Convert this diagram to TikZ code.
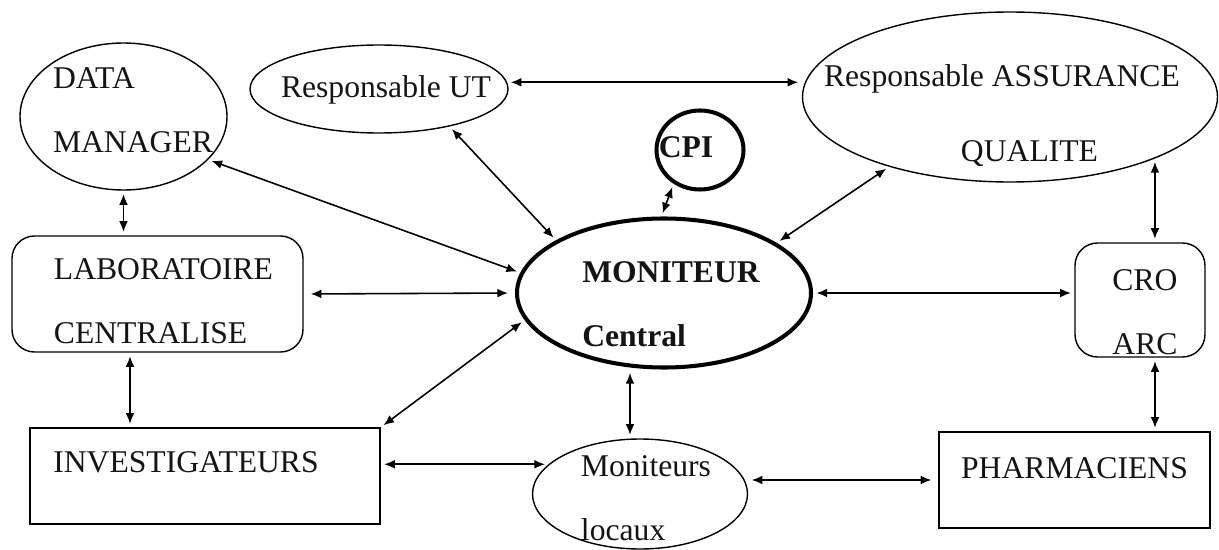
\documentclass[tikz,border=0pt]{standalone}
\usepackage{fontspec}
\setmainfont{Liberation Serif}
\usetikzlibrary{arrows.meta,shapes.geometric}
\definecolor{edgeink}{RGB}{0,0,0}
\definecolor{labelink}{RGB}{20,20,20}

\begin{document}
\begin{tikzpicture}[
  >={Latex[length=6pt,width=5pt]},
  bubble/.style={draw=edgeink, ellipse, line width=0.8pt, inner sep=0pt},
  heavy/.style={bubble, line width=2.3pt},
  box/.style={draw=edgeink, rectangle, line width=0.8pt, inner sep=0pt},
  roundbox/.style={box, rounded corners=0.45cm},
  link/.style={draw=edgeink, <->, line width=0.9pt, shorten <=2pt, shorten >=2pt},
  lab/.style={font=\fontsize{18}{36.5}\selectfont, text=labelink, inner sep=0pt},
]

  % Page frame, 1 px = 0.02 cm
  \path[use as bounding box] (0,0) rectangle (24.38,-11);

  % --- Top row ---
  \node[bubble, minimum width=4.14cm, minimum height=2.94cm] (dm) at (2.47,-2.33) {};
  \node[lab, align=left] (dm-t) at (2.66,-2.21) {DATA\\MANAGER};

  \node[bubble, minimum width=5.16cm, minimum height=1.76cm] (ut) at (7.58,-1.78) {};
  \node[lab] (ut-t) at (7.72,-1.80) {Responsable UT};

  \node[bubble, minimum width=8.3cm, minimum height=3.4cm] (aq) at (20.2,-1.94) {};
  \node[lab, align=center] (aq-t) at (20.04,-2.31)
    {Responsable ASSURANCE\\[6pt]\hspace*{1.1cm}QUALITE};

  \node[heavy, minimum width=1.74cm, minimum height=1.58cm] (cpi) at (14.0,-3.0) {};
  \node[lab, font=\fontsize{18}{36.5}\selectfont\bfseries] (cpi-t) at (13.72,-2.94) {CPI};

  % --- Central monitor ---
  \node[heavy, minimum width=5.88cm, minimum height=2.98cm] (mon) at (13.28,-5.86) {};
  \node[lab, align=left, font=\fontsize{18}{36.5}\selectfont\bfseries] (mon-t) at (13.42,-6.09)
    {MONITEUR\\Central};

  % --- Middle row ---
  \node[roundbox, minimum width=5.82cm, minimum height=2.32cm] (lab) at (3.15,-5.88) {};
  \node[lab, align=left] (lab-t) at (3.27,-6.03) {LABORATOIRE\\CENTRALISE};

  \node[roundbox, minimum width=2.6cm, minimum height=2.28cm] (cro) at (22.8,-6.0) {};
  \node[lab, align=center] (cro-t) at (22.9,-6.25) {CRO\\ARC};

  % --- Bottom row ---
  \node[box, minimum width=7.0cm, minimum height=1.92cm] (inv) at (4.1,-9.52) {};
  \node[lab] (inv-t) at (3.72,-9.24) {INVESTIGATEURS};

  \node[bubble, minimum width=4.3cm, minimum height=2.2cm] (ml) at (12.8,-9.88) {};
  \node[lab, align=left] (ml-t) at (12.92,-9.97) {Moniteurs\\locaux};

  \node[box, minimum width=5.42cm, minimum height=1.92cm] (ph) at (21.49,-9.6) {};
  \node[lab] (ph-t) at (21.49,-9.36) {PHARMACIENS};

  % --- Exchanges ---
  \coordinate (labFoot) at ([xshift=-0.55cm]lab.south);
  \coordinate (mlTop) at ([xshift=-0.2cm]ml.north);
  \coordinate (croTop) at ([xshift=0.3cm]cro.north);
  \coordinate (croFoot) at ([xshift=0.3cm]cro.south);

  \draw[link] (ut.3) -- (ut.3 -| aq.west);
  \draw[link] (dm.-27) -- (mon.172);
  \draw[link] (ut.-28) -- (mon.154);
  \draw[link] (cpi.232) -- (mon.92);
  \draw[link] (aq.210) -- (mon.24);
  \draw[link] (dm.south) -- (dm.south |- lab.north);
  \draw[link, shorten <=4pt, shorten >=4pt] (lab.east) -- (mon.west);
  \draw[link] (mon.east) -- (mon.east -| cro.west);
  \draw[link] (aq.-23) -- (aq.-23 |- croTop);
  \draw[link] (labFoot) -- (labFoot |- inv.north);
  \draw[link] (inv.north east) -- (mon.191);
  \draw[link] (mlTop) -- (mlTop |- mon.south);
  \draw[link] (croFoot) -- (croFoot |- ph.north);
  \draw[link] (inv.east |- ml.162) -- (ml.162);
  \draw[link, shorten >=4pt] (ph.west -| ml.east) -- (ph.west);

\end{tikzpicture}
\end{document}
